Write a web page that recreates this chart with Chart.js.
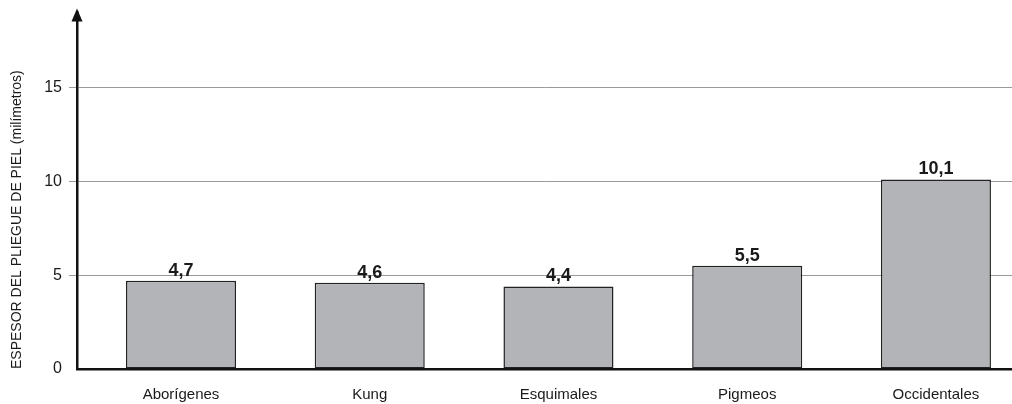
<!DOCTYPE html>
<html>
<head>
<meta charset="utf-8">
<script src="https://cdn.jsdelivr.net/npm/chart.js@4.4.1/dist/chart.umd.min.js"></script>
<style>
  html, body { margin: 0; padding: 0; background: #fff; }
  #wrap { width: 1012px; height: 404px; position: relative; }
</style>
</head>
<body>
<div id="wrap"><canvas id="chart"></canvas></div>
<script>
// data
const categories = ["Aborígenes", "Kung", "Esquimales", "Pigmeos", "Occidentales"];
const thickness = [4.7, 4.6, 4.4, 5.5, 10.1];
const valueLabels = ["4,7", "4,6", "4,4", "5,5", "10,1"];
const yTicks = [0, 5, 10, 15];
const yTitle = "ESPESOR DEL PLIEGUE DE PIEL (milímetros)";

const FONT = "'Liberation Sans', Arial, sans-serif";
const INK = "#1a1a1a";

// arrow head on top of the y axis
const axisArrow = {
    id: "axisArrow",
    afterDraw(chart) {
        const ctx = chart.ctx;
        const x = chart.chartArea.left;
        const top = chart.chartArea.top;
        ctx.save();
        ctx.fillStyle = "#111";
        ctx.beginPath();
        ctx.moveTo(x, top - 4);
        ctx.lineTo(x - 5.5, top + 9);
        ctx.lineTo(x + 5.5, top + 9);
        ctx.closePath();
        ctx.fill();
        ctx.restore();
    }
};

// value written above each bar
const barValues = {
    id: "barValues",
    afterDatasetsDraw(chart) {
        const ctx = chart.ctx;
        const meta = chart.getDatasetMeta(0);
        ctx.save();
        ctx.font = "bold 18px " + FONT;
        ctx.fillStyle = INK;
        ctx.textAlign = "center";
        ctx.textBaseline = "alphabetic";
        meta.data.forEach((bar, i) => {
            ctx.fillText(valueLabels[i], bar.x, bar.y - 5);
        });
        ctx.restore();
    }
};

new Chart(document.getElementById("chart"), {
    type: "bar",
    data: {
        datasets: [{
            data: thickness.map((v, i) => ({ x: i, y: v })),
            backgroundColor: "#b3b4b8",
            borderColor: "#222",
            borderWidth: 1.5,
            borderSkipped: false,
            categoryPercentage: 1,
            barPercentage: 0.583
        }]
    },
    options: {
        responsive: true,
        maintainAspectRatio: false,
        animation: false,
        layout: { padding: { top: 12.5, right: 0, bottom: 0, left: 0 } },
        plugins: {
            legend: { display: false },
            tooltip: { enabled: false }
        },
        scales: {
            x: {
                type: "linear",
                offset: false,
                bounds: "data",
                min: -0.551,
                max: 4.403,
                afterBuildTicks: scale => {
                    scale.ticks = categories.map((c, i) => ({ value: i }));
                },
                afterFit: scale => { scale.height = 35; },
                grid: { display: false, drawTicks: false, offset: false },
                border: { display: true, color: "#111", width: 2.5 },
                ticks: {
                    autoSkip: false,
                    maxRotation: 0,
                    padding: 17,
                    color: INK,
                    font: { family: FONT, size: 15 },
                    callback: v => categories[v]
                }
            },
            y: {
                min: 0,
                max: 19,
                afterBuildTicks: scale => {
                    scale.ticks = yTicks.map(v => ({ value: v }));
                },
                afterFit: scale => {
                    scale.width = 77;
                    scale.paddingTop = 0;
                    scale.paddingBottom = 0;
                },
                grid: {
                    color: ctx => ctx.tick && ctx.tick.value === 0 ? "rgba(0,0,0,0)" : "#9a9a9a",
                    lineWidth: 1,
                    drawTicks: true,
                    tickLength: 8
                },
                border: { display: true, color: "#111", width: 2.5 },
                ticks: {
                    padding: 7,
                    color: INK,
                    font: { family: FONT, size: 16 }
                },
                title: {
                    display: true,
                    text: yTitle,
                    align: "start",
                    color: INK,
                    font: { family: FONT, size: 14 },
                    padding: { top: 9, bottom: 0 }
                }
            }
        }
    },
    plugins: [axisArrow, barValues]
});
</script>
</body>
</html>
